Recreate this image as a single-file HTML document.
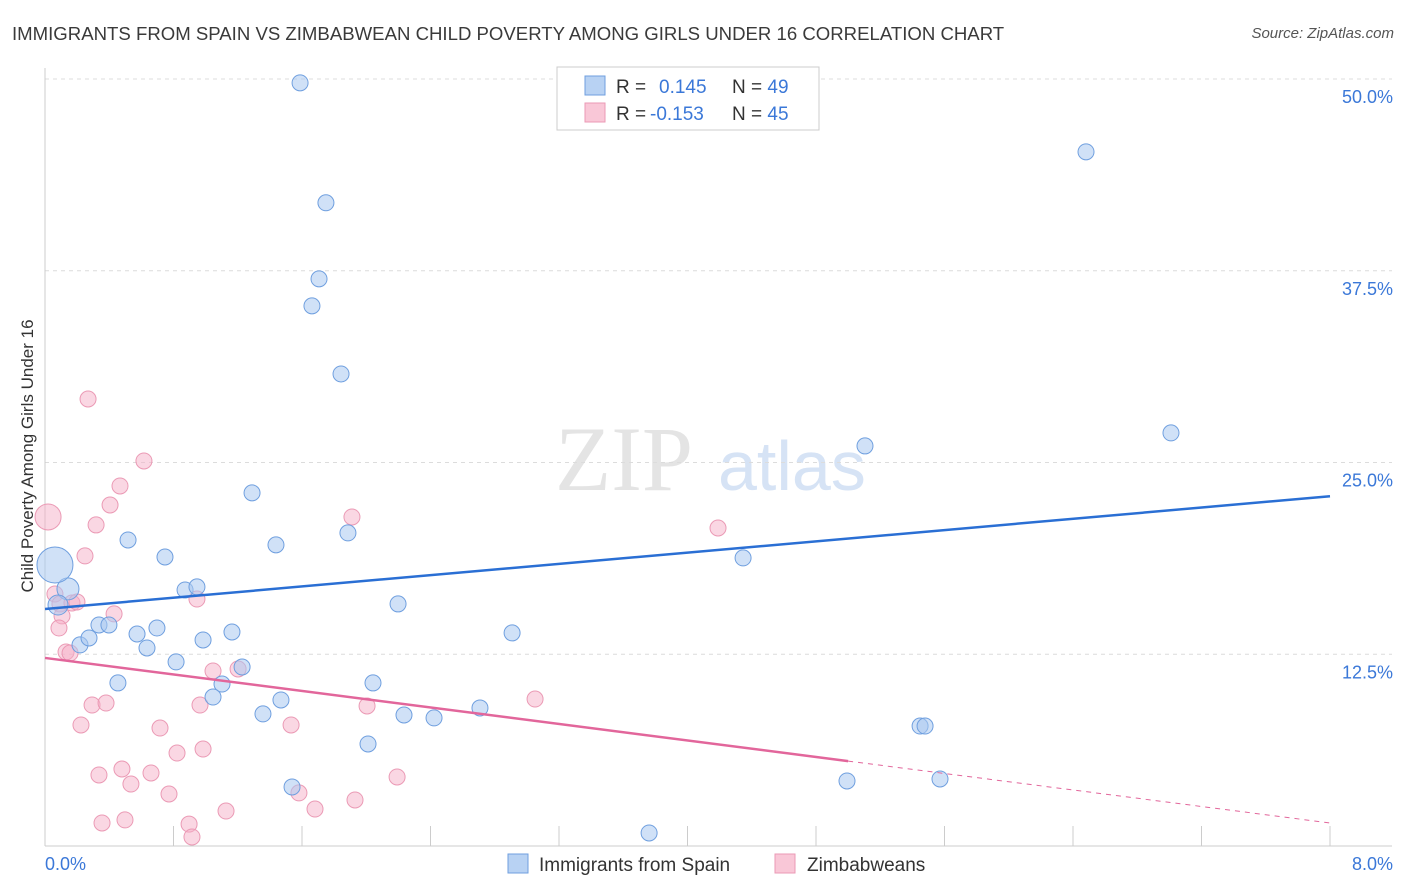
<!DOCTYPE html>
<html><head><meta charset="utf-8"><style>
body{margin:0;background:#fff;font-family:"Liberation Sans",sans-serif;}
#wrap{position:relative;width:1406px;height:892px;overflow:hidden;}
.title{position:absolute;left:12px;top:23px;font-size:18.6px;color:#3a3a3a;}
.src{position:absolute;right:12px;top:25px;font-size:15px;color:#555;font-style:italic;}
</style></head><body>
<div id="wrap">
<div class="title">IMMIGRANTS FROM SPAIN VS ZIMBABWEAN CHILD POVERTY AMONG GIRLS UNDER 16 CORRELATION CHART</div>
<div class="src">Source: ZipAtlas.com</div>
<svg id="svg" width="1406" height="892" style="position:absolute;left:0;top:0"></svg>
</div>
<script>
const yTicks=[12.5,25,37.5,50];
const yTickLabels=["12.5%","25.0%","37.5%","50.0%"];
const xTickVals=[0,0.8,1.6,2.4,3.2,4,4.8,5.6,6.4,7.2,8];
const blueX=[1.588,1.749,1.706,1.662,1.843,6.481,7.010,5.105,1.289,0.517,1.886,1.438,0.747,4.346,0.143,0.081,0.872,0.946,2.198,0.336,0.398,0.697,1.164,0.573,0.218,0.274,0.984,0.635,2.908,0.816,1.227,0.454,1.102,2.042,1.046,1.469,2.708,1.357,2.235,2.422,5.448,5.479,2.011,1.538,4.993,5.572,3.761,0.062,4.626];
const blueY=[49.75,41.93,36.97,35.21,30.77,45.25,26.93,26.08,23.02,19.95,20.41,19.63,18.84,18.78,16.76,15.71,16.69,16.89,15.78,14.41,14.41,14.21,13.95,13.82,13.11,13.56,13.43,12.91,13.89,12.00,11.67,10.63,10.56,10.63,9.71,9.52,9.00,8.61,8.54,8.35,7.82,7.82,6.65,3.85,4.24,4.37,0.85,18.32,49.75];
const blueR=[8,8,8,8,8,8,8,8,8,8,8,8,8,8,11,10,8,8,8,8,8,8,8,8,8,8,8,8,8,8,8,8,8,8,8,8,8,8,8,8,8,8,8,8,8,8,8,18,8];
const pinkX=[0.019,0.268,0.616,0.467,0.405,0.318,0.249,1.911,4.190,0.062,0.093,0.168,0.199,0.946,0.430,0.106,0.087,0.131,0.156,1.046,1.202,3.051,0.293,0.380,0.965,2.005,0.224,0.716,1.532,0.984,0.822,0.479,0.336,0.660,0.535,2.192,0.772,1.581,1.930,1.127,1.681,0.498,0.355,0.897,0.915];
const pinkY=[21.45,29.14,25.10,23.47,22.23,20.93,18.91,21.45,20.73,16.43,15.78,15.84,15.91,16.10,15.13,15.00,14.21,12.65,12.58,11.41,11.54,9.58,9.19,9.32,9.19,9.13,7.89,7.69,7.89,6.32,6.06,5.02,4.63,4.76,4.04,4.50,3.39,3.46,3.00,2.28,2.41,1.70,1.50,1.43,0.59];
const pinkR=[13,8,8,8,8,8,8,8,8,8,8,8,8,8,8,8,8,8,8,8,8,8,8,8,8,8,8,8,8,8,8,8,8,8,8,8,8,8,8,8,8,8,8,8,8];
const blueLine=[15.45,22.8];
const pinkLine=[12.26,1.5];
const pinkSolidEnd=5.0;

const X0=45,X1=1330,Y0=846,Y50=79;
const sx=v=>X0+(X1-X0)*v/8;
const sy=v=>Y0-(Y0-Y50)*v/50;
const svg=document.getElementById('svg');
const NS='http://www.w3.org/2000/svg';
function mk(t,a){const e=document.createElementNS(NS,t);for(const k in a)e.setAttribute(k,a[k]);svg.appendChild(e);return e;}
let w=mk('text',{x:555,y:490,'font-size':92,'font-family':'Liberation Serif,serif',fill:'#e4e4e4'});w.textContent='ZIP';


let w2=mk('text',{x:718,y:490,'font-size':70,'font-family':'Liberation Sans,sans-serif',fill:'#d6e3f5'});w2.textContent='atlas';


yTicks.forEach((t,i)=>{
 const g=mk('line',{x1:X0,x2:1392,y1:sy(t),y2:sy(t),stroke:'#dcdcdc','stroke-dasharray':'4,4'});
 
 
 const l=mk('text',{x:1393,y:sy(t)+24,'text-anchor':'end','font-size':18,fill:'#3b78d8'});l.textContent=yTickLabels[i];
 
 
});
const ya=mk('line',{x1:X0,x2:X0,y1:68,y2:Y0,stroke:'#ccc'});


const xa=mk('line',{x1:X0,x2:1392,y1:Y0,y2:Y0,stroke:'#ccc'});


xTickVals.forEach(v=>{const t=mk('line',{x1:sx(v),x2:sx(v),y1:826,y2:Y0,stroke:'#ccc'});
 
 });
[[0,'0.0%',45,'start'],[8,'8.0%',1393,'end']].forEach(a=>{const t=mk('text',{x:a[2],y:870,'font-size':18,fill:'#3b78d8','text-anchor':a[3]});t.textContent=a[1];
 
 });
const yt=mk('text',{x:33,y:456,'font-size':17,fill:'#333','text-anchor':'middle',transform:'rotate(-90 33 456)'});yt.textContent='Child Poverty Among Girls Under 16';


pinkX.forEach((x,i)=>{const c=mk('circle',{cx:sx(x),cy:sy(pinkY[i]),r:pinkR[i],fill:'rgba(245,175,200,0.5)',stroke:'#eb9ab5','stroke-width':1});
 
 });
blueX.forEach((x,i)=>{const c=mk('circle',{cx:sx(x),cy:sy(blueY[i]),r:blueR[i],fill:'rgba(170,200,240,0.55)',stroke:'#6f9fdf','stroke-width':1});
 
 });
const bl=mk('line',{x1:sx(0),y1:sy(blueLine[0]),x2:sx(8),y2:sy(blueLine[1]),stroke:'#2a6fd4','stroke-width':2.5});


const pv=x=>pinkLine[0]+(pinkLine[1]-pinkLine[0])*x/8;
const pl=mk('line',{x1:sx(0),y1:sy(pv(0)),x2:sx(pinkSolidEnd),y2:sy(pv(pinkSolidEnd)),stroke:'#e2669b','stroke-width':2.5});


const pd=mk('line',{x1:sx(pinkSolidEnd),y1:sy(pv(pinkSolidEnd)),x2:sx(8),y2:sy(pv(8)),stroke:'#e2669b','stroke-width':1,'stroke-dasharray':'5,5'});


const lb=mk('rect',{x:557,y:67,width:262,height:63,fill:'#fff',stroke:'#ccc'});


[[0,'#b8d2f3','#6f9fdf','0.145','49',659],[1,'#f9c7d7','#eb9ab5','-0.153','45',650]].forEach(r=>{
 const y=76+r[0]*27;
 const s=mk('rect',{x:585,y:y,width:20,height:19,fill:r[1],stroke:r[2]});
 
 
 const t=mk('text',{x:616,y:y+17,'font-size':19,fill:'#333'});
 t.innerHTML='R = <tspan x="'+r[5]+'" fill="#3b78d8">'+r[3]+'</tspan><tspan x="732">N = </tspan><tspan fill="#3b78d8">'+r[4]+'</tspan>';
 
 
});
[[508,'#b8d2f3','#6f9fdf','Immigrants from Spain',539],[775,'#f9c7d7','#eb9ab5','Zimbabweans',807]].forEach(r=>{
 const s=mk('rect',{x:r[0],y:854,width:20,height:19,fill:r[1],stroke:r[2]});
 
 
 const t=mk('text',{x:r[4],y:871,'font-size':19,fill:'#333'});t.textContent=r[3];
 
 
});
</script>
</body></html>
